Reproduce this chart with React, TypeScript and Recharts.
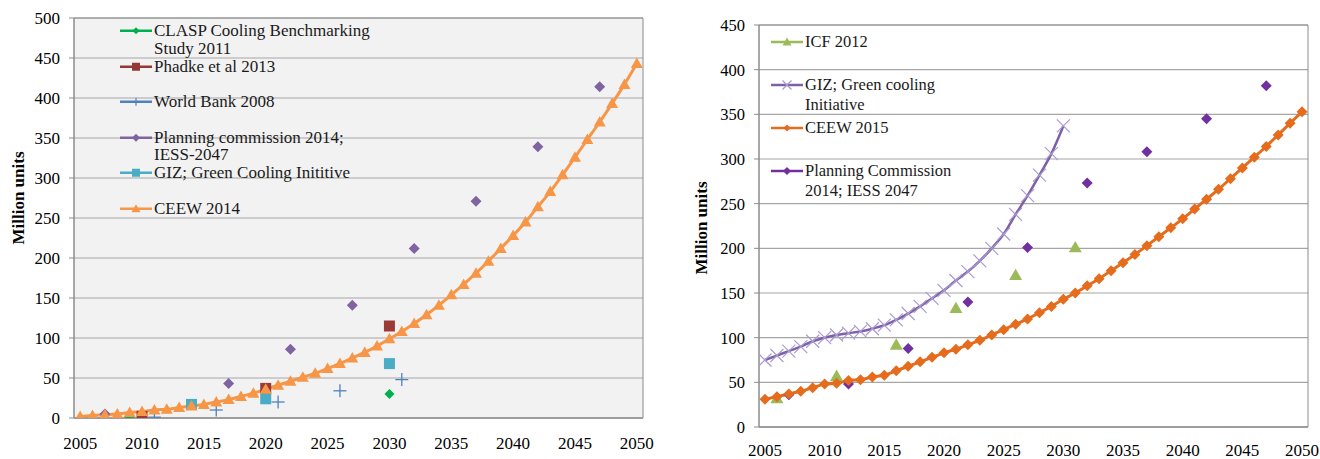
import React from 'react';
import {
  ComposedChart,
  Line,
  Scatter,
  XAxis,
  YAxis,
  CartesianGrid,
  ReferenceArea,
  Legend,
  Label,
} from 'recharts';

// categories (one per year)
const years = [
  2005, 2006, 2007, 2008, 2009, 2010, 2011, 2012, 2013, 2014,
  2015, 2016, 2017, 2018, 2019, 2020, 2021, 2022, 2023, 2024,
  2025, 2026, 2027, 2028, 2029, 2030, 2031, 2032, 2033, 2034,
  2035, 2036, 2037, 2038, 2039, 2040, 2041, 2042, 2043, 2044,
  2045, 2046, 2047, 2048, 2049, 2050,
];
const xTicks = [2005, 2010, 2015, 2020, 2025, 2030, 2035, 2040, 2045, 2050];
const leftYTicks = [0, 50, 100, 150, 200, 250, 300, 350, 400, 450, 500];
const rightYTicks = [0, 50, 100, 150, 200, 250, 300, 350, 400, 450];

// left chart
const ceew2014 = [
  2, 3, 4, 5, 7, 8, 10, 11, 13, 15,
  17, 20, 23, 27, 31, 36, 41, 46, 51, 56,
  62, 68, 75, 82, 90, 99, 108, 118, 129, 141,
  154, 167, 181, 196, 212, 228, 245, 264, 283, 304,
  326, 348, 370, 393, 417, 443,
];
const claspYears = [2009, 2030];
const claspValues = [1, 30];
const phadkeYears = [2010, 2020, 2030];
const phadkeValues = [2, 37, 115];
const worldBankYears = [2011, 2016, 2021, 2026, 2031];
const worldBankValues = [1, 10, 20, 34, 48];
const planning14Years = [2007, 2017, 2022, 2027, 2032, 2037, 2042, 2047];
const planning14Values = [5, 43, 86, 141, 212, 271, 339, 414];
const gizLeftYears = [2014, 2020, 2030];
const gizLeftValues = [17, 24, 68];

// right chart
const ceew2015 = [
  31, 34, 37, 40, 44, 48, 49, 52, 53, 56,
  58, 63, 68, 73, 78, 83, 87, 92, 97, 103,
  109, 115, 121, 128, 135, 143, 150, 158, 166, 175,
  184, 193, 203, 213, 223, 233, 244, 255, 266, 278,
  290, 302, 314, 327, 340, 353,
];
const gizCoolingYears = [
  2005, 2006, 2007, 2008, 2009, 2010, 2011, 2012, 2013, 2014,
  2015, 2016, 2017, 2018, 2019, 2020, 2021, 2022, 2023, 2024,
  2025, 2026, 2027, 2028, 2029, 2030,
];
const gizCoolingValues = [
  75, 80, 85, 90, 96, 100, 103, 105, 107, 110,
  114, 120, 127, 135, 144, 153, 164, 174, 186, 200,
  216, 238, 259, 282, 306, 337,
];
const icfYears = [2006, 2011, 2016, 2021, 2026, 2031];
const icfValues = [32, 57, 92, 133, 170, 201];
const planningRYears = [2007, 2012, 2017, 2022, 2027, 2032, 2037, 2042, 2047];
const planningRValues = [36, 48, 88, 140, 201, 273, 308, 345, 382];

const rows = (xs: number[], vs: number[]) => xs.map((year, i) => ({ year, value: vs[i] }));
// category boundaries, where Excel puts its tick marks
const xBounds = [...years.map((y) => y - 0.5), years[years.length - 1] + 0.5];
const xDomain: [number, number] = [xBounds[0], xBounds[xBounds.length - 1]];

const FONT = '"Liberation Serif", "Times New Roman", serif';
const AXIS = '#8c8c8c';
const GRID = '#a6a6a6';

type Shape = 'diamond' | 'square' | 'triangle' | 'plus' | 'cross';

function Marker({ shape, cx, cy, size, color, sw = 1.3 }: any) {
  const h = size / 2;
  if (shape === 'diamond')
    return <polygon points={`${cx},${cy - h} ${cx + h},${cy} ${cx},${cy + h} ${cx - h},${cy}`} fill={color} />;
  if (shape === 'square') return <rect x={cx - h} y={cy - h} width={size} height={size} fill={color} />;
  if (shape === 'triangle')
    return <polygon points={`${cx},${cy - h} ${cx + h},${cy + h * 0.75} ${cx - h},${cy + h * 0.75}`} fill={color} />;
  if (shape === 'plus')
    return (
      <g stroke={color} strokeWidth={sw}>
        <line x1={cx - h} x2={cx + h} y1={cy} y2={cy} />
        <line x1={cx} x2={cx} y1={cy - h} y2={cy + h} />
      </g>
    );
  return (
    <g stroke={color} strokeWidth={sw}>
      <line x1={cx - h} x2={cx + h} y1={cy - h} y2={cy + h} />
      <line x1={cx - h} x2={cx + h} y1={cy + h} y2={cy - h} />
    </g>
  );
}

const dotFn = (shape: Shape, size: number, color: string, sw?: number) => (p: any) => {
  const k = `d-${p.index}`;
  if (p.cx == null || p.cy == null) return <g key={k} />;
  return (
    <g key={k}>
      <Marker shape={shape} cx={p.cx} cy={p.cy} size={size} color={color} sw={sw} />
    </g>
  );
};

const shapeFn = (shape: Shape, size: number, color: string, sw?: number) => (p: any) => (
  <Marker shape={shape} cx={p.cx} cy={p.cy} size={size} color={color} sw={sw} />
);

type LegendItem = { name: string; label: string; shape: Shape; line: string; mark: string; size: number };

const makeLegend = (items: LegendItem[], rowH: number, lineH: number, fontSize: number) => (props: any) => {
  const names = items.map((i) => i.name);
  const payload = [...(props.payload || [])].sort((a: any, b: any) => names.indexOf(a.value) - names.indexOf(b.value));
  return (
    <div style={{ fontFamily: FONT, fontSize, lineHeight: `${lineH}px`, color: '#1a1a1a' }}>
      {payload.map((entry: any) => {
        const it = items.find((i) => i.name === entry.value);
        if (!it) return null;
        return (
          <div key={it.name} style={{ position: 'relative', height: rowH, paddingLeft: 34 }}>
            <svg width={32} height={lineH} style={{ position: 'absolute', left: 0, top: 0 }}>
              <line x1={0} x2={32} y1={lineH / 2} y2={lineH / 2} stroke={it.line} strokeWidth={2.5} />
              <Marker shape={it.shape} cx={16} cy={lineH / 2} size={it.size} color={it.mark} sw={1.2} />
            </svg>
            <div style={{ whiteSpace: 'pre' }}>{it.label}</div>
          </div>
        );
      })}
    </div>
  );
};

const leftLegend: LegendItem[] = [
  { name: 'CLASP Cooling Benchmarking Study 2011', label: 'CLASP Cooling Benchmarking\nStudy 2011', shape: 'diamond', line: '#00b050', mark: '#00b050', size: 7 },
  { name: 'Phadke et al 2013', label: 'Phadke et al 2013', shape: 'square', line: '#953735', mark: '#953735', size: 8 },
  { name: 'World Bank 2008', label: 'World Bank 2008', shape: 'plus', line: '#4f81bd', mark: '#4f81bd', size: 8 },
  { name: 'Planning commission 2014; IESS-2047', label: 'Planning commission 2014;\nIESS-2047', shape: 'diamond', line: '#8064a2', mark: '#8064a2', size: 8 },
  { name: 'GIZ; Green Cooling Inititive', label: 'GIZ; Green Cooling Inititive', shape: 'square', line: '#4bacc6', mark: '#4bacc6', size: 8 },
  { name: 'CEEW 2014', label: 'CEEW 2014', shape: 'triangle', line: '#f79646', mark: '#f79646', size: 9 },
];

const rightLegend: LegendItem[] = [
  { name: 'ICF 2012', label: 'ICF 2012', shape: 'triangle', line: '#9bbb59', mark: '#9bbb59', size: 9 },
  { name: 'GIZ; Green cooling Initiative', label: 'GIZ; Green cooling\nInitiative', shape: 'cross', line: '#7f5fa8', mark: '#a99bd0', size: 9 },
  { name: 'CEEW 2015', label: 'CEEW 2015', shape: 'diamond', line: '#e46c1c', mark: '#e46c1c', size: 7 },
  { name: 'Planning Commission 2014; IESS 2047', label: 'Planning Commission\n2014; IESS 2047', shape: 'diamond', line: '#7030a0', mark: '#7030a0', size: 8 },
];

const tickStyle = { fontFamily: FONT, fontSize: 17, fill: '#000' };

const yTitle = (x: number, y: number) => () => (
  <text
    x={x}
    y={y}
    transform={`rotate(-90 ${x} ${y})`}
    textAnchor="middle"
    dominantBaseline="central"
    style={{ fontFamily: FONT, fontSize: 17, fontWeight: 'bold', fill: '#000' }}
  >
    Million units
  </text>
);

function LeftChart() {
  return (
    <ComposedChart width={660} height={459} margin={{ top: 18, right: 17, bottom: 11, left: 14 }}>
      <CartesianGrid vertical={false} fill="#f2f2f2" stroke={GRID} strokeWidth={1.2} />
      <XAxis
        xAxisId="minor"
        type="number"
        dataKey="year"
        domain={xDomain}
        allowDataOverflow
        ticks={xBounds}
        interval={0}
        tickFormatter={() => ''}
        height={0}
        axisLine={false}
        tickLine={{ stroke: AXIS }}
        tickSize={6}
      />
      <XAxis
        type="number"
        dataKey="year"
        domain={xDomain}
        allowDataOverflow
        ticks={xTicks}
        interval={0}
        tickLine={false}
        axisLine={{ stroke: AXIS }}
        tickSize={8}
        tickMargin={11}
        height={30}
        tick={tickStyle}
      />
      <YAxis
        type="number"
        dataKey="value"
        domain={[0, 500]}
        allowDataOverflow
        ticks={leftYTicks}
        interval={0}
        width={60}
        axisLine={{ stroke: AXIS }}
        tickLine={{ stroke: AXIS }}
        tickSize={5}
        tickMargin={9}
        tick={tickStyle}
      >
        <Label content={yTitle(18, 198)} />
      </YAxis>
      <ReferenceArea x1={xDomain[0]} x2={xDomain[1]} y1={0} y2={500} fill="none" stroke={AXIS} />
      <Scatter name={leftLegend[0].name} data={rows(claspYears, claspValues)} fill="#00b050" shape={shapeFn('diamond', 10, '#00b050')} isAnimationActive={false} />
      <Scatter name={leftLegend[1].name} data={rows(phadkeYears, phadkeValues)} fill="#953735" shape={shapeFn('square', 11, '#9b3b38')} isAnimationActive={false} />
      <Scatter name={leftLegend[2].name} data={rows(worldBankYears, worldBankValues)} fill="#4f81bd" shape={shapeFn('plus', 13, '#4f81bd', 1.3)} isAnimationActive={false} />
      <Scatter name={leftLegend[3].name} data={rows(planning14Years, planning14Values)} fill="#8064a2" shape={shapeFn('diamond', 11, '#8064a2')} isAnimationActive={false} />
      <Scatter name={leftLegend[4].name} data={rows(gizLeftYears, gizLeftValues)} fill="#4bacc6" shape={shapeFn('square', 11, '#4bacc6')} isAnimationActive={false} />
      <Line
        name={leftLegend[5].name}
        data={rows(years, ceew2014)}
        dataKey="value"
        type="monotone"
        stroke="#f79646"
        strokeWidth={3}
        dot={dotFn('triangle', 12, '#f79646')}
        isAnimationActive={false}
      />
      <Legend
        layout="vertical"
        align="center"
        verticalAlign="middle"
        wrapperStyle={{ left: 120, top: 22, width: 'auto', height: 'auto' }}
        content={makeLegend(leftLegend, 35.5, 17.5, 17)}
      />
    </ComposedChart>
  );
}

function RightChart() {
  return (
    <ComposedChart width={660} height={459} margin={{ top: 25, right: 12, bottom: 0, left: 39 }}>
      <CartesianGrid vertical={false} fill="#ffffff" stroke={GRID} strokeWidth={1.2} />
      <XAxis
        xAxisId="minor"
        type="number"
        dataKey="year"
        domain={xDomain}
        allowDataOverflow
        ticks={xBounds}
        interval={0}
        tickFormatter={() => ''}
        height={0}
        axisLine={false}
        tickLine={{ stroke: AXIS }}
        tickSize={6}
      />
      <XAxis
        type="number"
        dataKey="year"
        domain={xDomain}
        allowDataOverflow
        ticks={xTicks}
        interval={0}
        tickLine={false}
        axisLine={{ stroke: AXIS }}
        tickSize={8}
        tickMargin={9}
        height={32}
        tick={tickStyle}
      />
      <YAxis
        type="number"
        dataKey="value"
        domain={[0, 450]}
        allowDataOverflow
        ticks={rightYTicks}
        interval={0}
        width={60}
        axisLine={{ stroke: AXIS }}
        tickLine={{ stroke: AXIS }}
        tickSize={5}
        tickMargin={9}
        tick={{ ...tickStyle, fontSize: 16.5 }}
      >
        <Label content={yTitle(41, 228)} />
      </YAxis>
      <ReferenceArea x1={xDomain[0]} x2={xDomain[1]} y1={0} y2={450} fill="none" stroke={AXIS} />
      <Scatter name={rightLegend[0].name} data={rows(icfYears, icfValues)} fill="#9bbb59" shape={shapeFn('triangle', 13, '#9bbb59')} isAnimationActive={false} />
      <Line
        name={rightLegend[1].name}
        data={rows(gizCoolingYears, gizCoolingValues)}
        dataKey="value"
        type="monotone"
        stroke="#7f5fa8"
        strokeWidth={2.5}
        dot={dotFn('cross', 13, '#a99bd0', 1.2)}
        isAnimationActive={false}
      />
      <Line
        name={rightLegend[2].name}
        data={rows(years, ceew2015)}
        dataKey="value"
        type="monotone"
        stroke="#e46c1c"
        strokeWidth={3}
        dot={dotFn('diamond', 11, '#e46c1c')}
        isAnimationActive={false}
      />
      <Scatter name={rightLegend[3].name} data={rows(planningRYears, planningRValues)} fill="#7030a0" shape={shapeFn('diamond', 11, '#7030a0')} isAnimationActive={false} />
      <Legend
        layout="vertical"
        align="center"
        verticalAlign="middle"
        wrapperStyle={{ left: 111, top: 32, width: 'auto', height: 'auto' }}
        content={makeLegend(rightLegend, 43, 20, 16.5)}
      />
    </ComposedChart>
  );
}

export default function App() {
  return (
    <div style={{ position: 'absolute', left: 0, top: 0, width: 1320, height: 459, background: '#fff', overflow: 'hidden' }}>
      <div style={{ position: 'absolute', left: 0, top: 0 }}>
        <LeftChart />
      </div>
      <div style={{ position: 'absolute', left: 660, top: 0 }}>
        <RightChart />
      </div>
    </div>
  );
}
